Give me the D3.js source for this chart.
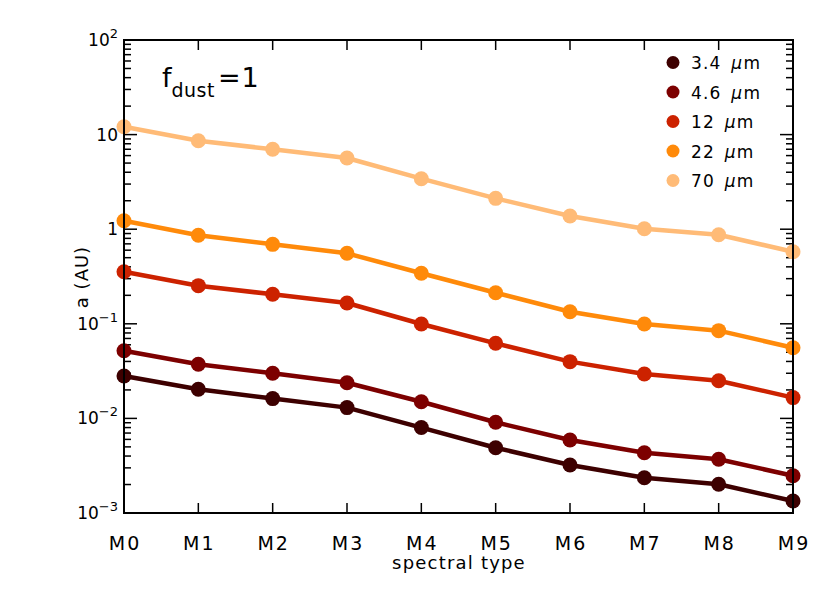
<!DOCTYPE html>
<html><head><meta charset="utf-8">
<script src="https://cdn.jsdelivr.net/npm/d3@7"></script>
<style>
body{margin:0;background:#fff;}
svg text{font-family:"DejaVu Sans",sans-serif;fill:#000;}
</style></head>
<body><svg id="c" width="830" height="593"></svg>
<script>
const categories = ["M0","M1","M2","M3","M4","M5","M6","M7","M8","M9"];
const seriesNames = ["3.4","4.6","12","22","70"];
const colors = ["#3d0000","#7d0000","#cc2200","#ff8a0a","#ffbb77"];
const s34 = [0.0281,0.0203,0.0162,0.0130,0.0080,0.0049,0.00322,0.00236,0.00201,0.00134];
const s46 = [0.0519,0.0373,0.0300,0.0238,0.0150,0.0091,0.00591,0.00434,0.00370,0.00248];
const s12 = [0.355,0.253,0.205,0.166,0.0995,0.0622,0.0398,0.0295,0.0250,0.0166];
const s22 = [1.23,0.862,0.692,0.556,0.342,0.213,0.134,0.0995,0.0846,0.0559];
const s70 = [12.1,8.62,6.99,5.66,3.42,2.12,1.38,1.01,0.875,0.578];
const yTickExp = [-3,-2,-1,0,1,2];
const yTickLabels = ["10","10","10","1","10","10"];
const yTickSups = ["−3","−2","−1","","","2"];

const series = [s34,s46,s12,s22,s70];
const svg = d3.select("#c");
const L=124,R=793,T=40,B=513;
const x = d3.scalePoint().domain(categories).range([L,R]);
const y = d3.scaleLog().domain([1e-3,1e2]).range([B,T]);

const g = svg.append("g");
const minor=[];
for(let e=-3;e<2;e++) for(let m=2;m<=9;m++) minor.push(m*Math.pow(10,e));
const majors = yTickExp.map(e=>Math.pow(10,e));
g.selectAll(".ymL").data(minor).join("line").attr("x1",L).attr("x2",L+7).attr("y1",d=>y(d)).attr("y2",d=>y(d)).attr("stroke","#000").attr("stroke-width",1.5);
g.selectAll(".ymR").data(minor).join("line").attr("x1",R).attr("x2",R-7).attr("y1",d=>y(d)).attr("y2",d=>y(d)).attr("stroke","#000").attr("stroke-width",1.5);
g.selectAll(".yML").data(majors).join("line").attr("x1",L).attr("x2",L+13).attr("y1",d=>y(d)).attr("y2",d=>y(d)).attr("stroke","#000").attr("stroke-width",1.5);
g.selectAll(".yMR").data(majors).join("line").attr("x1",R).attr("x2",R-13).attr("y1",d=>y(d)).attr("y2",d=>y(d)).attr("stroke","#000").attr("stroke-width",1.5);
g.selectAll(".xB").data(categories).join("line").attr("x1",d=>x(d)).attr("x2",d=>x(d)).attr("y1",B).attr("y2",B-10).attr("stroke","#000").attr("stroke-width",1.5);
g.selectAll(".xT").data(categories).join("line").attr("x1",d=>x(d)).attr("x2",d=>x(d)).attr("y1",T).attr("y2",T+10).attr("stroke","#000").attr("stroke-width",1.5);

const line = d3.line().x((d,i)=>x(categories[i])).y(d=>y(d));
series.forEach((s,k)=>{
  const sg = svg.append("g");
  sg.append("path").attr("d",line(s)).attr("fill","none").attr("stroke",colors[k]).attr("stroke-width",4.5).attr("stroke-linejoin","round");
  sg.selectAll("circle").data(s).join("circle").attr("cx",(d,i)=>x(categories[i])).attr("cy",d=>y(d)).attr("r",7.5).attr("fill",colors[k]);
});

svg.append("rect").attr("x",L).attr("y",T).attr("width",R-L).attr("height",B-T).attr("fill","none").attr("stroke","#000").attr("stroke-width",2);

const yl = svg.append("g");
yTickExp.forEach((e,i)=>{
  const t = yl.append("text").attr("x",L-6).attr("y",y(Math.pow(10,e))+6).attr("text-anchor","end").attr("font-size",17);
  t.append("tspan").text(yTickLabels[i]);
  if(yTickSups[i]) t.append("tspan").attr("dy",-8).attr("font-size",13).text(yTickSups[i]);
});
svg.selectAll(".xl").data(categories).join("text").attr("x",d=>x(d)+1).attr("y",550).attr("text-anchor","middle").attr("font-size",19).attr("letter-spacing",2).text(d=>d);
svg.append("text").attr("x",459).attr("y",569).attr("text-anchor","middle").attr("font-size",18).attr("letter-spacing",1.2).text("spectral type");
svg.append("text").attr("transform","translate(88,277) rotate(-90)").attr("text-anchor","middle").attr("font-size",18).attr("letter-spacing",1).text("a (AU)");

const f = svg.append("text").attr("x",162).attr("y",87);
f.append("tspan").attr("font-size",27).text("f");
f.append("tspan").attr("dy",10).attr("font-size",19).attr("letter-spacing",0.5).text("dust");
f.append("tspan").attr("dy",-10).attr("dx",3).attr("font-size",27).text("=");
f.append("tspan").attr("dx",1).attr("font-size",27).text("1");

seriesNames.forEach((n,k)=>{
  const yy = 62.5 + k*29.5;
  svg.append("circle").attr("cx",673).attr("cy",yy).attr("r",6.5).attr("fill",colors[k]);
  const t = svg.append("text").attr("x",691).attr("y",yy+6.5).attr("font-size",17).attr("letter-spacing",1.2);
  t.append("tspan").text(n+"\u2002");
  t.append("tspan").attr("font-style","italic").text("\u03bc");
  t.append("tspan").text("m");
});
</script></body></html>
